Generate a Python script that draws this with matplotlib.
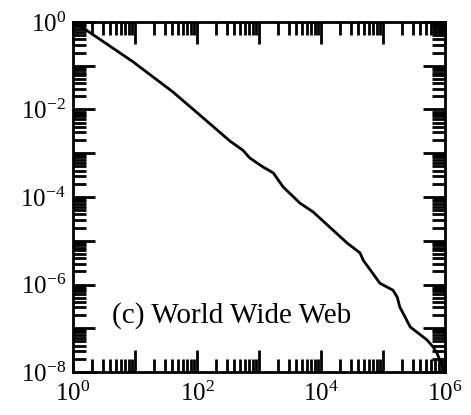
# -*- coding: utf-8 -*-
# www_degree.py

import numpy as np
import matplotlib
matplotlib.use("Agg")
import matplotlib.pyplot as plt
from matplotlib.ticker import LogLocator, NullFormatter, FixedLocator

# degree k and cumulative distribution P(k)
k_values = [1, 1.62, 9.3, 41, 112, 340, 550, 710, 1150, 1700, 2450, 4600,
            7400, 26300, 42700, 47900, 89000, 145000, 170000, 186000,
            275000, 355000, 513000, 646000, 741000, 1000000]
p_values = [1.0, 0.66, 0.123, 0.0251, 7.4e-3, 1.9e-3, 1.17e-3, 7.8e-4,
            4.9e-4, 3.55e-4, 1.7e-4, 7.2e-5, 4.6e-5, 8.9e-6, 5.25e-6,
            3.6e-6, 1.07e-6, 7.4e-7, 5.1e-7, 3.1e-7, 1.07e-7, 8.1e-8,
            5.4e-8, 3.7e-8, 2.7e-8, 1e-8]

x_labels = [1e0, 1e2, 1e4, 1e6]
y_labels = [1e0, 1e-2, 1e-4, 1e-6, 1e-8]
panel_label = "(c) World Wide Web"

plt.rcParams['font.family'] = ['Liberation Serif', 'DejaVu Serif']
plt.rcParams['mathtext.fontset'] = 'custom'
plt.rcParams['mathtext.rm'] = 'Liberation Serif'
plt.rcParams['mathtext.it'] = 'Liberation Serif:italic'


def exp_label(v):
    return r'$10^{%d}$' % int(round(np.log10(v)))


fig = plt.figure(figsize=(4.71, 4.15), dpi=100)
ax = fig.add_axes([73 / 471, 43 / 415, 372 / 471, 350 / 415])

ax.plot(k_values, p_values, color='black', linewidth=2.0)

ax.set_xscale('log')
ax.set_yscale('log')
ax.set_xlim(1, 1e6)
ax.set_ylim(1e-8, 1)

# a major tick every decade, labels only every other decade
ax.xaxis.set_major_locator(FixedLocator([10.0 ** i for i in range(0, 7)]))
ax.yaxis.set_major_locator(FixedLocator([10.0 ** -i for i in range(0, 9)]))
ax.xaxis.set_minor_locator(LogLocator(base=10, subs=np.arange(2, 10), numticks=20))
ax.yaxis.set_minor_locator(LogLocator(base=10, subs=np.arange(2, 10), numticks=20))
ax.xaxis.set_minor_formatter(NullFormatter())
ax.yaxis.set_minor_formatter(NullFormatter())
ax.set_xticklabels([exp_label(v) if v in x_labels else '' for v in ax.get_xticks()])
ax.set_yticklabels([exp_label(v) if v in y_labels else '' for v in ax.get_yticks()])

ax.tick_params(which='both', direction='in', top=True, right=True,
               width=2, colors='black', labelsize=18)
ax.tick_params(which='major', length=16)
ax.tick_params(which='minor', length=9.5)
ax.tick_params(axis='x', which='major', pad=7)
ax.tick_params(axis='y', which='major', pad=5)

for side in ax.spines.values():
    side.set_linewidth(2)

ax.text(4.3, 10 ** -6.7, panel_label, fontsize=21, ha='left', va='center')

fig.savefig('out.png', dpi=100)
